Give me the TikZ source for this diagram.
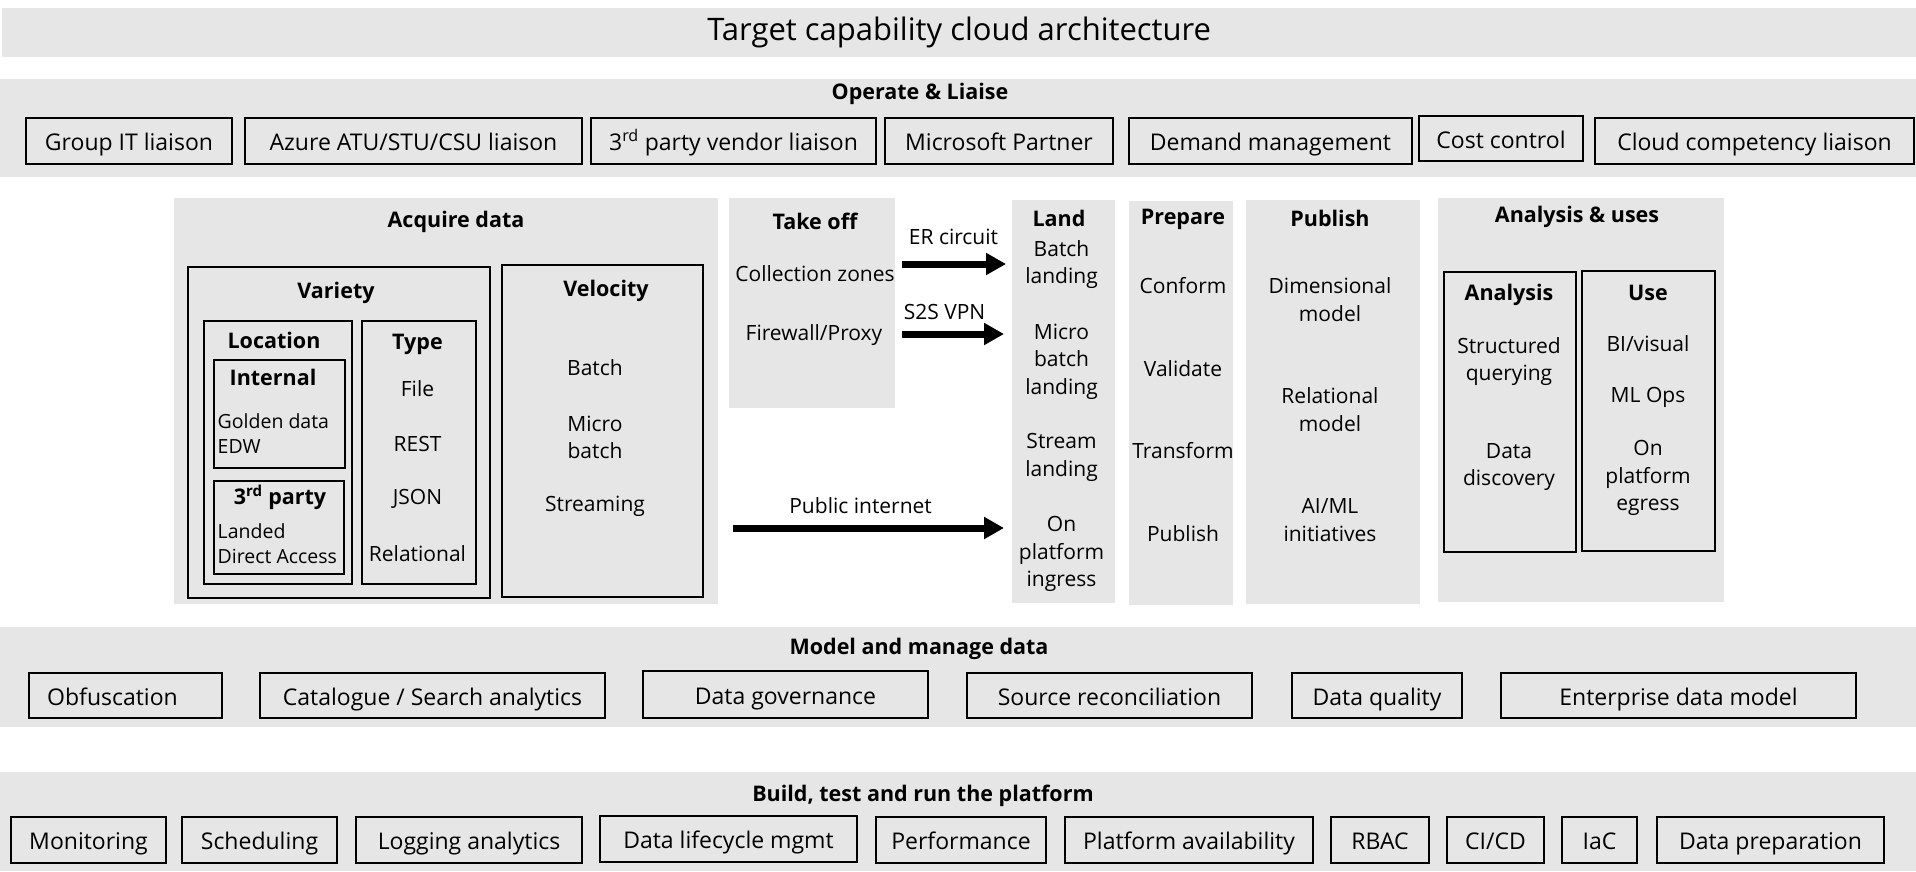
\documentclass[tikz,border=0pt]{standalone}
\usepackage{fontspec}
\setmainfont{Open Sans}
\usetikzlibrary{arrows.meta}
\definecolor{panelgray}{HTML}{E6E6E6}
\tikzset{
  panel/.style={fill=panelgray, draw=none, inner sep=0pt, anchor=north west},
  itembox/.style={draw=black, line width=2pt, inner sep=0pt, anchor=north west, font=\fontsize{23}{27}\selectfont, text height=19pt, text depth=0pt},
  subbox/.style={draw=black, line width=2pt, inner sep=0pt, anchor=north west},
  bandhead/.style={font=\fontsize{21.5}{25}\selectfont\bfseries, yshift=-1.5pt},
  head/.style={font=\fontsize{21.5}{25}\selectfont\bfseries, yshift=-2.5pt},
  txt/.style={font=\fontsize{21}{27.5}\selectfont, align=center, inner sep=0pt},
  smalltxt/.style={font=\fontsize{19.5}{25}\selectfont, align=left, inner sep=0pt, anchor=west},
  bigarrow/.style={line width=7pt, -{Triangle[length=20pt,width=21pt]}}
}
\begin{document}
\begin{tikzpicture}[x=1pt,y=-1pt]
\useasboundingbox (0,0) rectangle (1916,871);
% title
\node[panel, minimum width=1914, minimum height=49, font=\fontsize{31}{36}\selectfont] (titleband) at (2,8) {Target capability cloud architecture};
% Operate & Liaise
\node[panel, minimum width=1916, minimum height=98] (operate) at (0,79) {};
\node[bandhead] (operatehead) at (920,92) {Operate \& Liaise};
\node[itembox, minimum width=206, minimum height=46] (gitl) at (25,117) {Group IT liaison};
\node[itembox, minimum width=337, minimum height=46] (azure) at (244,117) {Azure ATU/STU/CSU liaison};
\node[itembox, minimum width=285, minimum height=46] (vendor) at (590,117) {3\textsuperscript{rd} party vendor liaison};
\node[itembox, minimum width=228, minimum height=46] (mspartner) at (884,117) {Microsoft Partner};
\node[itembox, minimum width=283, minimum height=46] (demand) at (1128,117) {Demand management};
\node[itembox, minimum width=164, minimum height=45] (cost) at (1418,115) {Cost control};
\node[itembox, minimum width=319, minimum height=46] (cloudcomp) at (1594,117) {Cloud competency liaison};
% middle panels
\node[panel, minimum width=544, minimum height=406] (acquire) at (174,198) {};
\node[panel, minimum width=166, minimum height=210] (takeoff) at (729,198) {};
\node[panel, minimum width=103, minimum height=403] (land) at (1012,200) {};
\node[panel, minimum width=104, minimum height=404] (prepare) at (1129,201) {};
\node[panel, minimum width=174, minimum height=404] (publishp) at (1246,200) {};
\node[panel, minimum width=286, minimum height=404] (anuses) at (1438,198) {};
% acquire data
\node[head] (acquirehead) at (456,219) {Acquire data};
\node[subbox, minimum width=302, minimum height=331] (variety) at (187,266) {};
\node[head] (varietyhead) at (336,290) {Variety};
\node[subbox, minimum width=148, minimum height=263] (location) at (203,320) {};
\node[head] (locationhead) at (274,338) {Location};
\node[subbox, minimum width=131, minimum height=108] (internal) at (213,359) {};
\node[head] (internalhead) at (273,375) {Internal};
\node[smalltxt] (golden) at (217.5,434) {Golden data\\EDW};
\node[subbox, minimum width=130, minimum height=93] (thirdp) at (213,480) {};
\node[head] (thirdphead) at (280,495) {3\textsuperscript{rd} party};
\node[smalltxt] (landed) at (217.5,544) {Landed\\Direct Access};
\node[subbox, minimum width=114, minimum height=263] (typebox) at (361,320) {};
\node[head] (typehead) at (417.5,342) {Type};
\node[txt] (file) at (417.5,389) {File};
\node[txt] (rest) at (417.5,444) {REST};
\node[txt] (json) at (417.5,499) {JSON};
\node[txt] (relational) at (417.5,554) {Relational};
\node[subbox, minimum width=201, minimum height=332] (velocity) at (501,264) {};
\node[head] (velocityhead) at (606,288) {Velocity};
\node[txt] (vbatch) at (595,368) {Batch};
\node[txt] (vmicro) at (595,437.5) {Micro\\batch};
\node[txt] (vstream) at (595,506) {Streaming};
% take off
\node[head] (takeoffhead) at (815,219) {Take off};
\node[txt] (collzones) at (815,274) {Collection zones};
\node[txt] (firewall) at (814,335) {Firewall/Proxy};
% arrows
\coordinate (a1s) at (902,264);
\coordinate (a1e) at (1006,264);
\coordinate (a2s) at (902,334);
\coordinate (a2e) at (1004,334);
\coordinate (a3s) at (733,528);
\coordinate (a3e) at (1004,528);
\draw[bigarrow] (a1s) -- (a1e);
\draw[bigarrow] (a2s) -- (a2e);
\draw[bigarrow] (a3s) -- (a3e);
\node[txt] (ercircuit) at (953.5,237) {ER circuit};
\node[txt] (s2svpn) at (944.5,312) {S2S VPN};
\node[txt] (pubinternet) at (860.6,506) {Public internet};
% land
\node[head] (landhead) at (1059,216) {Land};
\node[txt] (batchland) at (1061.5,264.5) {Batch\\landing};
\node[txt] (microland) at (1061.5,361.5) {Micro\\batch\\landing};
\node[txt] (streamland) at (1061.5,457.5) {Stream\\landing};
\node[txt] (ingress) at (1061.5,554) {On\\platform\\ingress};
% prepare
\node[head] (preparehead) at (1183,217) {Prepare};
\node[txt] (conform) at (1183,286) {Conform};
\node[txt] (validate) at (1183,369) {Validate};
\node[txt] (transform) at (1183,451) {Transform};
\node[txt] (ppublish) at (1183,534) {Publish};
% publish
\node[head] (publishhead) at (1330,216) {Publish};
\node[txt] (dimmodel) at (1330,299.5) {Dimensional\\model};
\node[txt] (relmodel) at (1330,409.5) {Relational\\model};
\node[txt] (aiml) at (1330,520) {AI/ML\\initiatives};
% analysis & uses
\node[head] (anuseshead) at (1577,214) {Analysis \& uses};
\node[subbox, minimum width=132, minimum height=280] (analysisbox) at (1443,271) {};
\node[head] (analysishead) at (1509,292) {Analysis};
\node[txt] (structq) at (1509,361.5) {Structured\\querying};
\node[txt] (datadisc) at (1509,467) {Data\\discovery};
\node[subbox, minimum width=133, minimum height=280] (usebox) at (1581,270) {};
\node[head] (usehead) at (1648,290) {Use};
\node[txt] (bivisual) at (1648,344) {BI/visual};
\node[txt] (mlops) at (1648,397) {ML Ops};
\node[txt] (egress) at (1648,478) {On\\platform\\egress};
% model and manage data
\node[panel, minimum width=1916, minimum height=100] (model) at (0,627) {};
\node[bandhead] (modelhead) at (919,647) {Model and manage data};
\node[itembox, minimum width=193, minimum height=45] (obf) at (28,672) {Obfuscation\hspace*{26pt}};
\node[itembox, minimum width=345, minimum height=45] (catalogue) at (259,672) {Catalogue / Search analytics};
\node[itembox, minimum width=285, minimum height=47] (governance) at (642,670) {Data governance};
\node[itembox, minimum width=285, minimum height=45] (sourcerec) at (966,672) {Source reconciliation};
\node[itembox, minimum width=170, minimum height=45] (quality) at (1291,672) {Data quality};
\node[itembox, minimum width=355, minimum height=45] (edm) at (1500,672) {Enterprise data model};
% build, test and run
\node[panel, minimum width=1916, minimum height=99] (build) at (0,772) {};
\node[bandhead] (buildhead) at (923,794) {Build, test and run the platform};
\node[itembox, minimum width=155, minimum height=46] (monitoring) at (10,816) {Monitoring};
\node[itembox, minimum width=155, minimum height=46] (scheduling) at (181,816) {Scheduling};
\node[itembox, minimum width=226, minimum height=46] (logging) at (355,816) {Logging analytics};
\node[itembox, minimum width=257, minimum height=46] (lifecycle) at (599,815) {Data lifecycle mgmt};
\node[itembox, minimum width=170, minimum height=46] (performance) at (875,816) {Performance};
\node[itembox, minimum width=248, minimum height=46] (availability) at (1064,816) {Platform availability};
\node[itembox, minimum width=98, minimum height=46] (rbac) at (1330,816) {RBAC};
\node[itembox, minimum width=97, minimum height=46] (cicd) at (1446,816) {CI/CD};
\node[itembox, minimum width=75, minimum height=46] (iac) at (1561,816) {IaC};
\node[itembox, minimum width=227, minimum height=46] (dataprep) at (1656,816) {Data preparation};
\end{tikzpicture}
\end{document}
